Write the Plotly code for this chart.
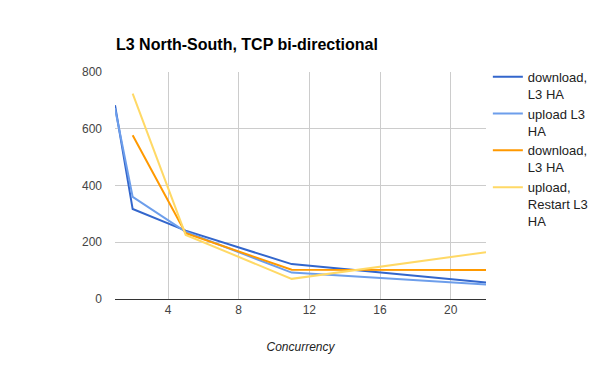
import plotly.graph_objects as go

concurrency = [1, 2, 5, 11, 22]
download_l3ha = [683, 317, 241, 123, 58]
upload_l3ha = [672, 360, 237, 93, 51]
download_l3ha_2 = [None, 577, 232, 103, 102]
upload_restart = [None, 724, 226, 71, 165]

series = [
    ("download,<br>L3 HA", download_l3ha, "#3366cc"),
    ("upload L3<br>HA", upload_l3ha, "#6d9eeb"),
    ("download,<br>L3 HA", download_l3ha_2, "#ff9900"),
    ("upload,<br>Restart L3<br>HA", upload_restart, "#ffd966"),
]

fig = go.Figure()
for name, vals, color in series:
    fig.add_trace(go.Scatter(
        x=concurrency, y=vals, mode="lines", name=name,
        line=dict(color=color, width=2), connectgaps=False,
    ))

# page body has an 8px default margin, so the figure is 8px smaller
W, H = 592, 363
fig.update_layout(
    width=W, height=H,
    margin=dict(l=107, r=114, t=64, b=72, autoexpand=False),
    paper_bgcolor="white", plot_bgcolor="white",
    font=dict(family="Arial, Liberation Sans, sans-serif", size=12, color="#444"),
    title=dict(text="<b>L3 North-South, TCP bi-directional</b>",
               x=108/W, xanchor="left", y=1-36/H, yanchor="middle",
               font=dict(size=16, color="#000")),
    legend=dict(x=1.005, xanchor="left", y=1.045, yanchor="top",
                font=dict(size=13, color="#222"), valign="top",
                bgcolor="rgba(0,0,0,0)"),
    showlegend=True,
)
fig.update_xaxes(
    range=[1, 22], tickvals=[4, 8, 12, 16, 20], showgrid=True,
    gridcolor="#cccccc", gridwidth=1, zeroline=False,
    showline=False, ticks="", ticklabelstandoff=2,
    title=dict(text="<i>Concurrency</i>", font=dict(size=12, color="#222"), standoff=26),
    tickfont=dict(size=12, color="#444"),
)
fig.update_yaxes(
    range=[0, 800], tickvals=[0, 200, 400, 600, 800], showgrid=True,
    gridcolor="#cccccc", gridwidth=1, zeroline=True, zerolinecolor="#333333",
    zerolinewidth=1, showline=False, ticks="", ticklabelstandoff=12,
    tickfont=dict(size=12, color="#444"),
)

fig.write_html("out.html")
